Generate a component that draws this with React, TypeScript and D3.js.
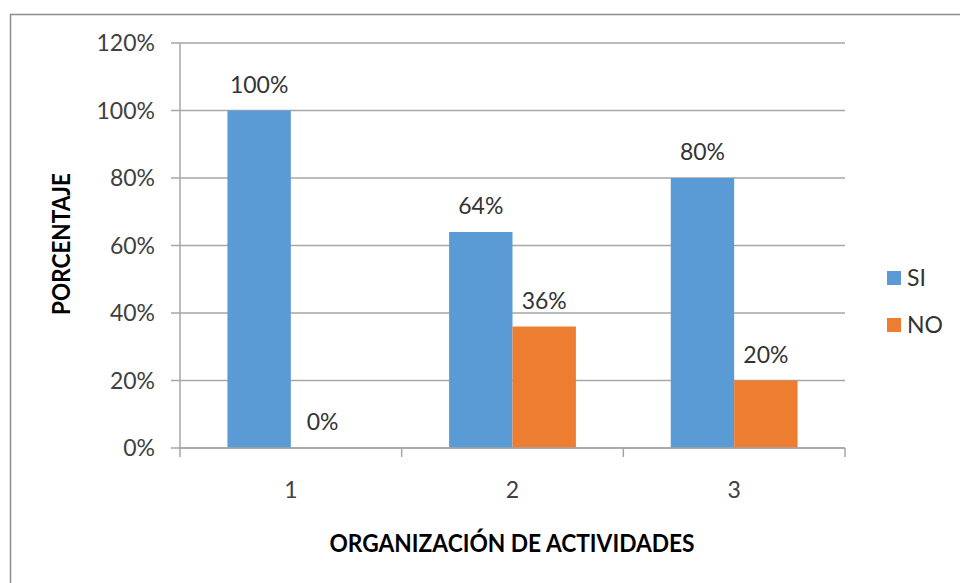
import React from 'react';
import * as d3 from 'd3';

const categories = ['1', '2', '3'];
const seriesNames = ['SI', 'NO'];
const siValues = [1.0, 0.64, 0.8];
const noValues = [0.0, 0.36, 0.2];
const yTicks = [0, 0.2, 0.4, 0.6, 0.8, 1.0, 1.2];
const colors = ['#5B9BD5', '#ED7D31'];

const W = 960;
const H = 583;
const FONT = 'Lato, "Liberation Sans", sans-serif';

const App = () => {
    const plot = { left: 180, right: 845, top: 43, bottom: 448 };

    const x0 = d3.scaleBand<string>()
        .domain(categories)
        .range([plot.left, plot.right])
        .padding(0);

    const bw = x0.bandwidth();
    const x1 = d3.scaleBand<string>()
        .domain(seriesNames)
        .range([bw * 0.214, bw * 0.786])
        .padding(0);

    const y = d3.scaleLinear().domain([0, 1.2]).range([plot.bottom, plot.top]);

    const rows = categories.map((c, i) => ({ cat: c, values: [siValues[i], noValues[i]] }));
    const fmt = d3.format('.0%');

    // category tick boundaries
    const boundaries = [...categories.map(c => x0(c) as number), plot.right];

    return (
        <svg width={W} height={H} style={{ display: 'block', position: 'absolute', left: 0, top: 0 }}>
            <rect x={0} y={0} width={W} height={H} fill="#fff" />
            <rect x={10.5} y={14.5} width={W + 20} height={H + 20} fill="none" stroke="#8c8c8c" strokeWidth={1.5} />

            {/* gridlines + y ticks */}
            {yTicks.map(t => (
                <g key={t}>
                    <line x1={plot.left - 9} x2={plot.right} y1={y(t)} y2={y(t)} stroke="#a6a6a6" strokeWidth={1.5} />
                    <text x={155} y={y(t)} dy="0.36em" textAnchor="end" fontFamily={FONT} fontSize={23} fill="#404040">
                        {fmt(t)}
                    </text>
                </g>
            ))}

            {/* y axis line */}
            <line x1={plot.left} x2={plot.left} y1={plot.top} y2={plot.bottom} stroke="#a6a6a6" strokeWidth={1.5} />

            {/* bars */}
            {rows.map(r => (
                <g key={r.cat} transform={`translate(${x0(r.cat)},0)`}>
                    {r.values.map((v, j) => (
                        <rect
                            key={j}
                            x={x1(seriesNames[j])}
                            y={y(v)}
                            width={x1.bandwidth()}
                            height={y(0) - y(v)}
                            fill={colors[j]}
                        />
                    ))}
                    {r.values.map((v, j) => (
                        <text
                            key={'l' + j}
                            x={(x1(seriesNames[j]) as number) + x1.bandwidth() / 2}
                            y={y(v) - 18}
                            textAnchor="middle"
                            fontFamily={FONT}
                            fontSize={23}
                            fill="#333"
                        >
                            {fmt(v)}
                        </text>
                    ))}
                </g>
            ))}

            {/* x axis */}
            <line x1={plot.left} x2={plot.right} y1={plot.bottom} y2={plot.bottom} stroke="#a6a6a6" strokeWidth={1.5} />
            {boundaries.map((b, i) => (
                <line key={i} x1={b} x2={b} y1={plot.bottom} y2={plot.bottom + 9} stroke="#a6a6a6" strokeWidth={1.5} />
            ))}
            {categories.map(c => (
                <text key={c} x={(x0(c) as number) + bw / 2} y={498} textAnchor="middle" fontFamily={FONT} fontSize={23} fill="#404040">
                    {c}
                </text>
            ))}

            {/* axis titles */}
            <text x={512} y={552} textAnchor="middle" fontFamily={FONT} fontSize={24} fontWeight="bold" fill="#000"
                textLength={365} lengthAdjust="spacingAndGlyphs">
                ORGANIZACIÓN DE ACTIVIDADES
            </text>
            <text transform="translate(70,244) rotate(-90)" textAnchor="middle" fontFamily={FONT} fontSize={24} fontWeight="bold" fill="#000"
                textLength={142} lengthAdjust="spacingAndGlyphs">
                PORCENTAJE
            </text>

            {/* legend */}
            {seriesNames.map((s, i) => (
                <g key={s} transform={`translate(887,${271 + i * 47})`}>
                    <rect x={0} y={0} width={14} height={14} fill={colors[i]} />
                    <text x={20} y={7} dy="0.36em" fontFamily={FONT} fontSize={23} fill="#333">{s}</text>
                </g>
            ))}
        </svg>
    );
};

export default App;
